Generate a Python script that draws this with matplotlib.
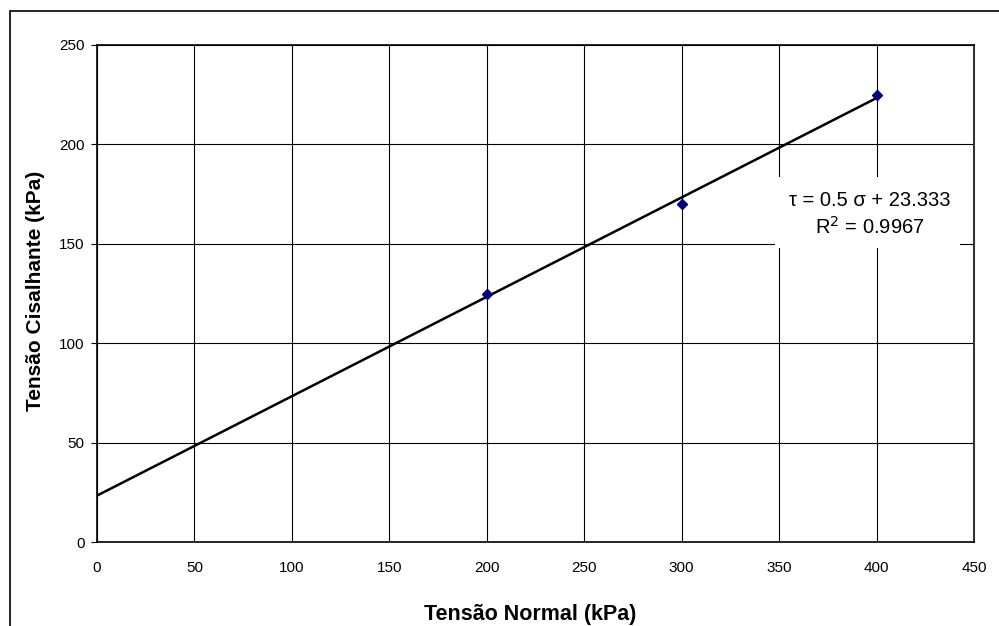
import matplotlib
matplotlib.use("Agg")
import matplotlib.pyplot as plt
from matplotlib.patches import Rectangle
import numpy as np

plt.rcParams['font.family'] = ['Liberation Sans', 'DejaVu Sans']

sigma = [200, 300, 400]
tau = [125, 170, 225]
slope = 0.5
intercept = 23.333
r2 = 0.9967
x_ticks = [0, 50, 100, 150, 200, 250, 300, 350, 400, 450]
y_ticks = [0, 50, 100, 150, 200, 250]

W, H = 999, 626
fig = plt.figure(figsize=(W/100, H/100), dpi=100)
fig.patches.append(Rectangle((10/W, -0.1), 1.2, 1 - 11/H + 0.1, transform=fig.transFigure,
                             fill=False, edgecolor='black', linewidth=1.2, zorder=0))
ax = fig.add_axes([97/W, 1 - 542/H, (974-97)/W, (542-45)/H])

ax.set_xlim(0, 450)
ax.set_ylim(0, 250)
ax.set_xticks(x_ticks)
ax.set_yticks(y_ticks)
ax.grid(True, color='black', linewidth=0.8)
ax.set_axisbelow(True)
ax.tick_params(axis='x', length=0, pad=14, labelsize=11)
ax.tick_params(axis='y', length=4.5, width=0.8, direction='out', pad=4.5, labelsize=11)
for s in ax.spines.values():
    s.set_color('black')
    s.set_linewidth(1.2)
ax.spines['right'].set_color('#333333')
ax.spines['right'].set_linewidth(1.5)

xf = np.array([0, max(sigma)])
ax.plot(xf, slope*xf + intercept, color='black', linewidth=1.8, zorder=3)
ax.plot(sigma, tau, linestyle='none', marker='D', markersize=5.5, color='#000080', zorder=4)

# equation box
bx0, bx1 = 775, 960
by0, by1 = 177, 248
def px2data(px, py):
    xd = (px - 97) / (974 - 97) * 450
    yd = (542 - py) / (542 - 45) * 250
    return xd, yd
x0, y0 = px2data(bx0, by1)
x1, y1 = px2data(bx1, by0)
ax.add_patch(Rectangle((x0, y0), x1 - x0, y1 - y0, facecolor='white', edgecolor='none', zorder=2.5))
cx, _ = px2data(870, 0)
_, ly1 = px2data(0, 200)
_, ly2 = px2data(0, 227)
ax.text(cx, ly1, '\u03c4 = 0.5 \u03c3 + 23.333', ha='center', va='center', fontsize=14.5, zorder=5)
ax.text(cx, ly2, 'R$^{2}$ = 0.9967', ha='center', va='center', fontsize=14.5, zorder=5)

fig.text(530/W, 1 - 620/H, 'Tensão Normal (kPa)', ha='center', va='baseline', fontsize=15.5, fontweight='bold')
fig.text(36/W, 1 - 291/H, 'Tensão Cisalhante (kPa)', ha='center', va='center', rotation=90,
         fontsize=15, fontweight='bold')

fig.savefig('out.png', dpi=100)
